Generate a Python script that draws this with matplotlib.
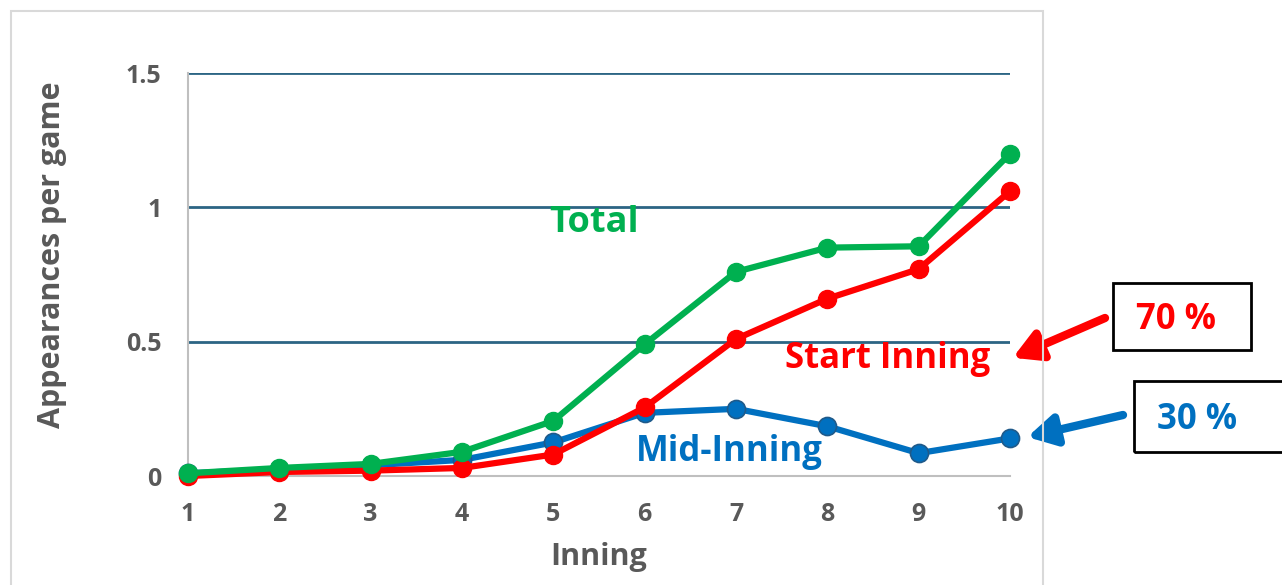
import numpy as np
import matplotlib
matplotlib.use("Agg")
import matplotlib.pyplot as plt
from matplotlib.patches import Rectangle

plt.rcParams['font.family'] = ['Open Sans', 'DejaVu Sans']
plt.rcParams['font.weight'] = 'bold'
plt.rcParams['axes.labelweight'] = 'bold'

innings = [1, 2, 3, 4, 5, 6, 7, 8, 9, 10]
total = [0.01, 0.03, 0.045, 0.09, 0.205, 0.49, 0.76, 0.85, 0.855, 1.2]
start_inning = [0.0, 0.015, 0.02, 0.03, 0.08, 0.255, 0.51, 0.66, 0.77, 1.06]
mid_inning = [0.01, 0.025, 0.04, 0.06, 0.125, 0.235, 0.25, 0.185, 0.085, 0.14]
yticks = [0, 0.5, 1, 1.5]
ytick_labels = ['0', '0.5', '1', '1.5']

GREEN = '#00B050'
RED = '#FF0000'
BLUE = '#0070C0'
GRAY = '#595959'

W, H = 1282, 585
fig = plt.figure(figsize=(W / 100, H / 100), dpi=100)
ax = fig.add_axes([188 / W, 1 - 476 / H, (1010 - 188) / W, (476 - 73) / H])

# outer chart frame
fig.add_artist(Rectangle((11 / W, -0.05), (1043 - 11) / W, 1.05 - 11 / H,
                         transform=fig.transFigure, fill=False,
                         edgecolor='#D9D9D9', lw=1.5))

ax.plot(innings, mid_inning, color=BLUE, lw=4.5, marker='o', ms=13,
        mec='#1F5A8A', mew=1.2, zorder=3, clip_on=False)
ax.plot(innings, start_inning, color=RED, lw=4.5, marker='o', ms=13,
        mec=RED, zorder=4, clip_on=False)
ax.plot(innings, total, color=GREEN, lw=4.5, marker='o', ms=13,
        mec=GREEN, zorder=5, clip_on=False)

ax.set_xlim(1, 10)
ax.set_ylim(0, 1.5)
ax.set_yticks(yticks)
ax.set_yticklabels(ytick_labels, fontweight='bold')
ax.set_xticks(innings)
ax.set_xticklabels([str(i) for i in innings], fontweight='bold')
for y in yticks[1:]:
    ax.axhline(y, color='#2C6584', lw=2, zorder=1)

for side in ['top', 'right']:
    ax.spines[side].set_visible(False)
for side in ['left', 'bottom']:
    ax.spines[side].set_color('#BFBFBF')
    ax.spines[side].set_linewidth(1.5)
ax.tick_params(axis='both', length=0, labelsize=18, labelcolor=GRAY)
ax.tick_params(axis='x', pad=19)
ax.tick_params(axis='y', pad=19)

ax.set_xlabel('Inning', fontsize=22, color=GRAY, fontweight='bold')
ax.set_ylabel('Appearances per game', fontsize=22, color=GRAY,
              fontweight='bold')
ax.xaxis.set_label_coords(0.5, -0.165)
ax.yaxis.set_label_coords(-0.147, 0.548)

ax.text(5.45, 0.94, 'Total', color=GREEN, fontsize=26, ha='center',
        va='center', fontweight='bold')
ax.text(8.66, 0.435, 'Start Inning', color=RED, fontsize=25, ha='center',
        va='center', fontweight='bold')
ax.text(6.93, 0.09, 'Mid-Inning', color=BLUE, fontsize=25, ha='center',
        va='center', fontweight='bold')

# share boxes on the right
fig.add_artist(Rectangle((1113 / W, 1 - 350 / H), (1251 - 1113) / W, 67 / H,
                         transform=fig.transFigure, fill=False,
                         edgecolor='black', lw=2))
fig.add_artist(Rectangle((1134 / W, 1 - 452 / H), 160 / W, 71 / H,
                         transform=fig.transFigure, fill=False,
                         edgecolor='black', lw=2))
fig.text(1176 / W, 1 - 320 / H, '70 %', color=RED, fontsize=25,
         ha='center', va='center', fontweight='bold')
fig.text(1197 / W, 1 - 420 / H, '30 %', color=BLUE, fontsize=25,
         ha='center', va='center', fontweight='bold')

ax.annotate('', xy=(10.03, 0.44), xycoords='data',
            xytext=(1105 / W, 1 - 318 / H), textcoords='figure fraction',
            arrowprops=dict(arrowstyle='-|>,head_length=0.75,head_width=0.42',
                            color=RED, lw=6, shrinkA=0, shrinkB=0,
                            mutation_scale=22),
            annotation_clip=False)
ax.annotate('', xy=(10.19, 0.145), xycoords='data',
            xytext=(1123 / W, 1 - 415 / H), textcoords='figure fraction',
            arrowprops=dict(arrowstyle='-|>,head_length=0.75,head_width=0.42',
                            color=BLUE, lw=6, shrinkA=0, shrinkB=0,
                            mutation_scale=22),
            annotation_clip=False)

fig.savefig('out.png', dpi=100)
